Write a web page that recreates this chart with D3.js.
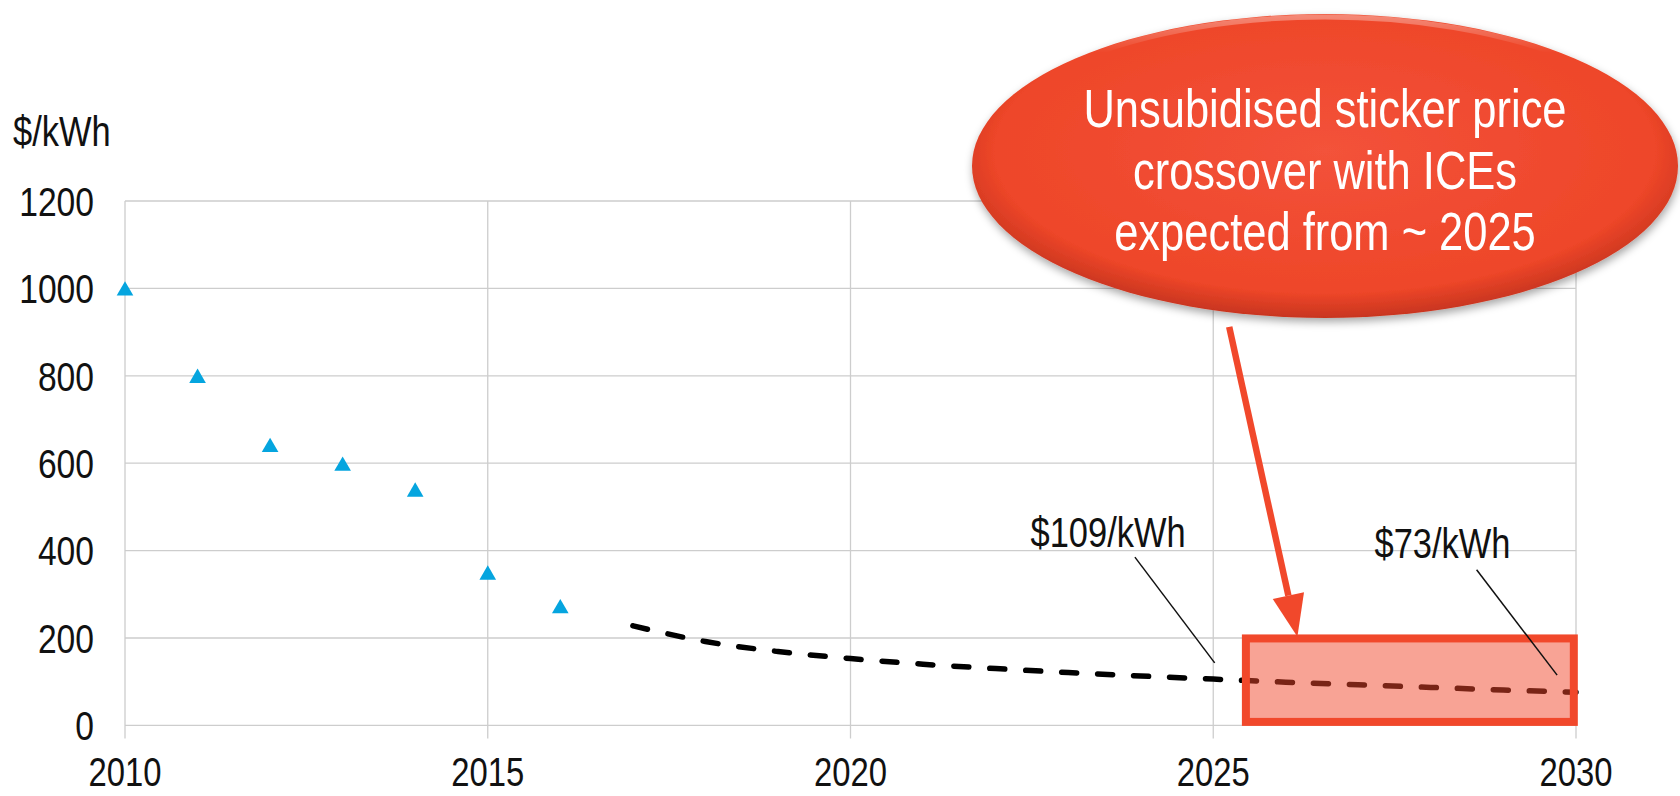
<!DOCTYPE html>
<html>
<head>
<meta charset="utf-8">
<script src="https://cdn.jsdelivr.net/npm/d3@7"></script>
<style>
  html, body { margin: 0; padding: 0; background: #fff; }
  svg { display: block; }
</style>
</head>
<body>
<svg id="chart" width="1680" height="796"></svg>
<script>
(function () {
  'use strict';

  // Actual pack prices (triangles)
  const years = [2010, 2011, 2012, 2013, 2014, 2015, 2016];
  const prices = [1000, 800, 642, 599, 540, 350, 273];

  // Forecast (dashed)
  const fcYears = [2017, 2018, 2019, 2020, 2021, 2022, 2023, 2024, 2025, 2026, 2027, 2028, 2029, 2030];
  const fcPrices = [228, 192, 169, 153, 140, 130, 121, 113, 106, 99, 93, 87, 81, 76];

  const xTicks = [2010, 2015, 2020, 2025, 2030];
  const yTicks = [0, 200, 400, 600, 800, 1000, 1200];
  const yUnit = '$/kWh';

  const calloutLines = ['Unsubidised sticker price', 'crossover with ICEs', 'expected from ~ 2025'];
  const priceNotes = ['$109/kWh', '$73/kWh'];

  const COLORS = {
    grid:   '#cdcdcd',
    marker: '#05a5df',
    line:   '#000',
    red:    '#f1482b',
    text:   '#111',
  };

  const FONT = '"Liberation Sans Narrow", "Arial Narrow", "Liberation Sans", Arial, sans-serif';

  const svg = d3.select('#chart');

  const x = d3.scaleLinear().domain([2010, 2030]).range([125, 1576]);
  const y = d3.scaleLinear().domain([0, 1200]).range([725.4, 201]);

  // does the narrow face exist? if not we squeeze the regular one
  function narrowAvailable() {
    const t = svg.append('text').style('font-size', '40px')
      .style('font-family', '"Liberation Sans Narrow", "Liberation Sans"').text('1200 kWh');
    const w1 = t.node().getComputedTextLength();
    t.style('font-family', '"Liberation Sans"');
    const w2 = t.node().getComputedTextLength();
    t.remove();
    return w1 < w2 * 0.92;
  }
  const hasNarrow = narrowAvailable();

  // Gridlines
  const grid = svg.append('g').attr('class', 'grid')
    .attr('stroke', COLORS.grid).attr('stroke-width', 1.3);

  grid.selectAll('line.h')
    .data(yTicks)
    .enter().append('line')
    .attr('x1', x(2010)).attr('x2', x(2030))
    .attr('y1', d => y(d)).attr('y2', d => y(d));

  grid.selectAll('line.v')
    .data(xTicks)
    .enter().append('line')
    .attr('x1', d => x(d)).attr('x2', d => x(d))
    .attr('y1', y(1200)).attr('y2', y(0) + 13);

  // Axis labels
  const labels = svg.append('g').attr('font-family', FONT).attr('fill', COLORS.text);

  labels.selectAll('text.yt')
    .data(yTicks)
    .enter().append('text')
    .attr('class', 'sq')
    .attr('x', 94)
    .attr('y', d => y(d))
    .attr('dy', '0.36em')
    .attr('text-anchor', 'end')
    .attr('font-size', 41)
    .text(d => d);

  labels.selectAll('text.xt')
    .data(xTicks)
    .enter().append('text')
    .attr('class', 'sq')
    .attr('x', d => x(d))
    .attr('y', 786)
    .attr('text-anchor', 'middle')
    .attr('font-size', 40)
    .text(d => d);

  labels.append('text')
    .attr('class', 'sq')
    .attr('x', 13).attr('y', 146)
    .attr('font-size', 42)
    .text(yUnit);

  // Triangles
  const tri = d3.symbol().type(d3.symbolTriangle).size(120);
  svg.append('g').selectAll('path')
    .data(years.map((yr, i) => ({ yr, v: prices[i] })))
    .enter().append('path')
    .attr('d', tri)
    .attr('fill', COLORS.marker)
    .attr('transform', d => `translate(${x(d.yr)},${y(d.v) + 2.4})`);

  // Forecast line
  const line = d3.line()
    .x(d => x(d.yr))
    .y(d => y(d.v))
    .curve(d3.curveMonotoneX);

  svg.append('path')
    .datum(fcYears.map((yr, i) => ({ yr, v: fcPrices[i] })))
    .attr('d', line)
    .attr('fill', 'none')
    .attr('stroke', COLORS.line)
    .attr('stroke-width', 5.5)
    .attr('stroke-linecap', 'round')
    .attr('stroke-dasharray', '15,21');

  // Highlight box 2025..2030
  const bx0 = x(2025.45), bx1 = x(2029.97), by0 = y(199), by1 = y(8);
  svg.append('rect')
    .attr('x', bx0).attr('y', by0)
    .attr('width', bx1 - bx0).attr('height', by1 - by0)
    .attr('fill', COLORS.red).attr('fill-opacity', 0.5)
    .attr('stroke', COLORS.red).attr('stroke-width', 8);

  // Price notes with leader lines
  const notes = [
    { text: priceNotes[0], at: [2023.55, 408], from: [2023.92, 385], to: [2025.02, 143] },
    { text: priceNotes[1], at: [2028.16, 383], from: [2028.63, 356], to: [2029.74, 115] },
  ];
  svg.append('g').selectAll('line')
    .data(notes)
    .enter().append('line')
    .attr('x1', d => x(d.from[0])).attr('y1', d => y(d.from[1]))
    .attr('x2', d => x(d.to[0])).attr('y2', d => y(d.to[1]))
    .attr('stroke', '#111').attr('stroke-width', 1.5);

  labels.selectAll('text.note')
    .data(notes)
    .enter().append('text')
    .attr('class', 'sq')
    .attr('x', d => x(d.at[0])).attr('y', d => y(d.at[1]))
    .attr('text-anchor', 'middle')
    .attr('font-size', 42)
    .text(d => d.text);

  // Arrow from callout to box
  const a0 = [x(2025.22), y(912)], a1 = [x(2026.16), y(203)];
  const ang = Math.atan2(a1[1] - a0[1], a1[0] - a0[0]);
  const headLen = 42, headW = 32;
  const base = [a1[0] - headLen * Math.cos(ang), a1[1] - headLen * Math.sin(ang)];
  const nx = -Math.sin(ang), ny = Math.cos(ang);
  svg.append('line')
    .attr('x1', a0[0]).attr('y1', a0[1])
    .attr('x2', base[0]).attr('y2', base[1])
    .attr('stroke', COLORS.red).attr('stroke-width', 6.5);
  svg.append('path')
    .attr('d', d3.line()([
      a1,
      [base[0] + nx * headW / 2, base[1] + ny * headW / 2],
      [base[0] - nx * headW / 2, base[1] - ny * headW / 2],
    ]) + 'Z')
    .attr('fill', COLORS.red);

  // Callout ellipse
  const defs = svg.append('defs');
  const grad = defs.append('radialGradient').attr('id', 'ellGrad')
    .attr('cx', '50%').attr('cy', '45%').attr('r', '55%');
  grad.append('stop').attr('offset', '0%').attr('stop-color', '#f3523a');
  grad.append('stop').attr('offset', '85%').attr('stop-color', '#ee4629');
  grad.append('stop').attr('offset', '100%').attr('stop-color', '#c8351f');
  const shine = defs.append('linearGradient').attr('id', 'ellShine')
    .attr('x1', 0).attr('y1', 0).attr('x2', 0).attr('y2', 1);
  shine.append('stop').attr('offset', '0%').attr('stop-color', '#fff').attr('stop-opacity', 0.35);
  shine.append('stop').attr('offset', '12%').attr('stop-color', '#fff').attr('stop-opacity', 0);
  shine.append('stop').attr('offset', '100%').attr('stop-color', '#fff').attr('stop-opacity', 0);
  const shadow = defs.append('filter').attr('id', 'ellShadow')
    .attr('x', '-10%').attr('y', '-10%').attr('width', '120%').attr('height', '125%');
  shadow.append('feDropShadow')
    .attr('dx', 1).attr('dy', 4).attr('stdDeviation', 4)
    .attr('flood-color', '#000').attr('flood-opacity', 0.35);

  const ecx = 1325, ecy = 166, erx = 353, ery = 152;
  svg.append('ellipse')
    .attr('cx', ecx).attr('cy', ecy).attr('rx', erx).attr('ry', ery)
    .attr('fill', 'url(#ellGrad)')
    .attr('filter', 'url(#ellShadow)');
  svg.append('ellipse')
    .attr('cx', ecx).attr('cy', ecy).attr('rx', erx - 3).attr('ry', ery - 3)
    .attr('fill', 'none')
    .attr('stroke', 'url(#ellShine)').attr('stroke-width', 5);

  svg.append('g').selectAll('text')
    .data(calloutLines)
    .enter().append('text')
    .attr('class', 'sq')
    .attr('x', ecx)
    .attr('y', (d, i) => 127 + i * 61.5)
    .attr('text-anchor', 'middle')
    .attr('font-family', FONT)
    .attr('font-size', 53)
    .attr('fill', '#fff')
    .text(d => d);

  // squeeze regular face when narrow one is missing
  if (!hasNarrow) {
    svg.selectAll('text.sq').each(function () {
      const w = this.getComputedTextLength();
      d3.select(this)
        .attr('textLength', w * 0.82)
        .attr('lengthAdjust', 'spacingAndGlyphs');
    });
  }
})();
</script>
</body>
</html>
